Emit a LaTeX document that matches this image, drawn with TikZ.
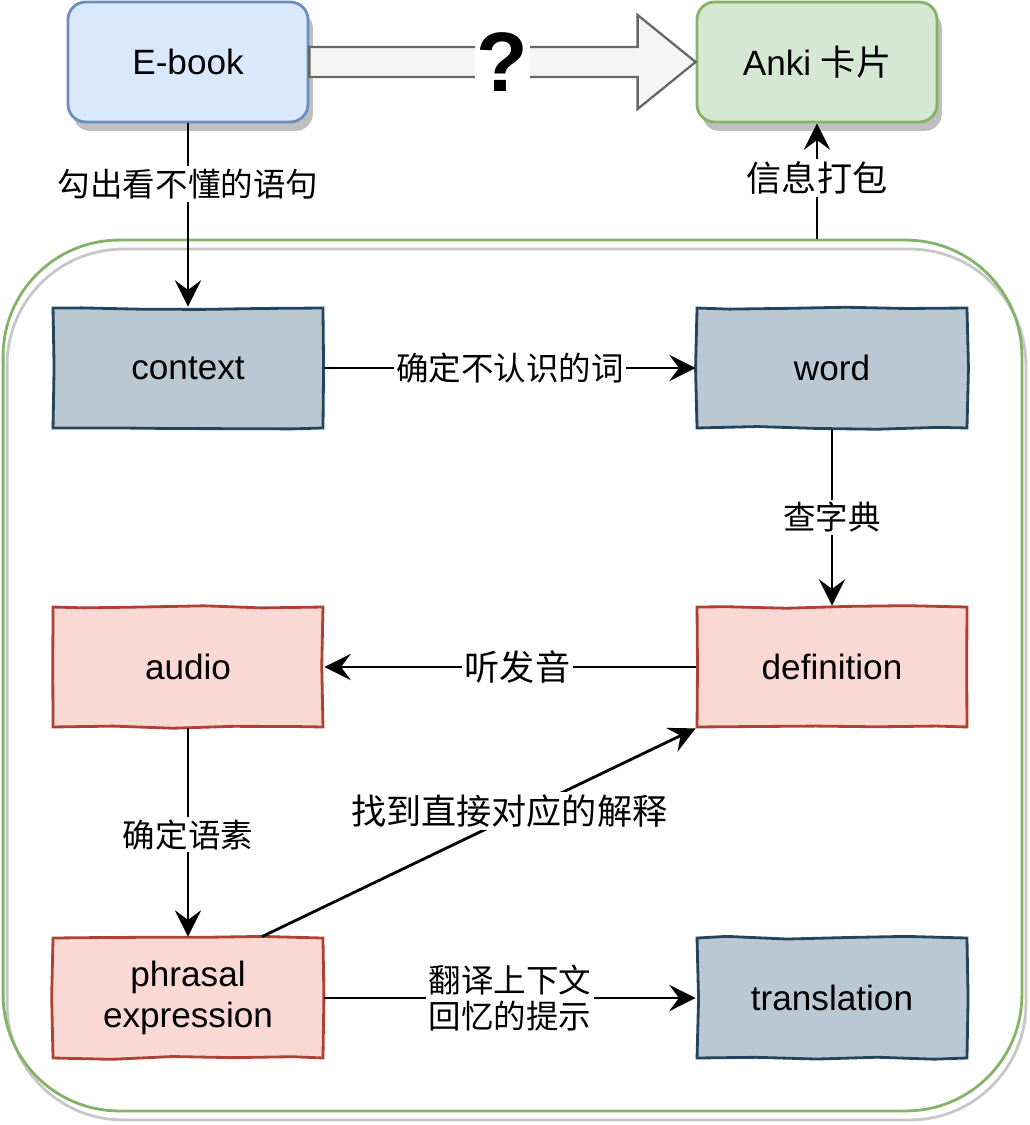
\documentclass[tikz,border=0pt]{standalone}
\usepackage{fontspec}
\setmainfont{Liberation Sans}
\newfontfamily\cjk{Noto Sans CJK SC}
\usetikzlibrary{
  arrows.meta,
  calc,
  decorations.pathmorphing,
  shadows
}
\definecolor{bookFill}{HTML}{DAE8FC}
\definecolor{bookLine}{HTML}{6C8EBF}
\definecolor{ankiFill}{HTML}{D5E8D4}
\definecolor{ankiLine}{HTML}{82B366}
\definecolor{slateFill}{HTML}{BAC8D3}
\definecolor{slateLine}{HTML}{23445D}
\definecolor{roseFill}{HTML}{FAD9D5}
\definecolor{roseLine}{HTML}{AE4132}
\definecolor{arrowFill}{HTML}{F5F5F5}
\definecolor{arrowLine}{HTML}{666666}
\tikzset{
  % For the two boxes outside the frame.
  rounded box/.style={
    draw,
    line width=1.6pt,
    rounded corners=10pt,
    minimum width=4.8cm,
    minimum height=2.4cm,
    font=\fontsize{20}{24}\selectfont,
    drop shadow={shadow xshift=0.1cm, shadow yshift=-0.18cm,
      fill=black!25, opacity=1}},
%
  % For the hand-drawn boxes inside the frame.
  sketch box/.style={
    draw,
    line width=1.6pt,
    minimum width=5.4cm,
    minimum height=2.4cm,
    align=center,
    font=\fontsize{20}{23}\selectfont,
    decorate,
    decoration={random steps, segment length=34pt, amplitude=1pt}},
  slate box/.style={
    sketch box,
    fill=slateFill,
    draw=slateLine},
  rose box/.style={
    sketch box,
    fill=roseFill,
    draw=roseLine},
%
  % For the big frame round the steps.
  frame/.style={
    draw=ankiLine,
    line width=1.6pt,
    minimum width=20.38cm,
    minimum height=17.42cm,
    rounded corners=66pt,
    drop shadow={shadow xshift=0.08cm, shadow yshift=-0.18cm,
      fill=none, draw=black!22, line width=1.6pt, opacity=1}},
%
  % For connectors.
  link/.style={
    line width=1.6pt,
    -{Stealth[length=15pt, width=15pt, inset=5.5pt]}},
%
  % For the wide arrow at the top.
  fat arrow/.style={
    draw=arrowLine,
    fill=arrowFill,
    line width=1.3pt,
    miter limit=10},
%
  % For labels on connectors.
  description/.style={
    fill=white,
    inner sep=1.5pt,
    align=center,
    font=\cjk\fontsize{18.5}{21}\selectfont},
  big description/.style={
    description,
    font=\cjk\fontsize{20}{23}\selectfont},
}

\begin{document}
\begin{tikzpicture}[x=0.02cm, y=-0.02cm]
  \useasboundingbox (0,0) rectangle (1029,1125);
  \pgfmathsetseed{11}

  \node[frame] (pane) at (512.5,675.5) {};

  \node[rounded box, fill=bookFill, draw=bookLine] (ebook) at (188,62) {E-book};
  \node[rounded box, fill=ankiFill, draw=ankiLine] (anki) at (817,62)
    {Anki {\cjk 卡片}};

  \node[slate box] (context) at (188,368) {context};
  \node[slate box] (word) at (832,368) {word};
  \node[rose box] (definition) at (832,667) {definition};
  \node[rose box] (audio) at (188,667) {audio};
  \node[rose box] (phrasal) at (188,998) {phrasal\\expression};
  \node[slate box] (translation) at (832,998) {translation};

  % The wide arrow is drawn after the boxes so that it covers the shadow.
  \draw[fat arrow] ($(ebook.east)+(0,-15)$) -- ($(anki.west)+(-58,-15)$)
    -- ($(anki.west)+(-58,-47)$) -- (anki.west) -- ($(anki.west)+(-58,47)$)
    -- ($(anki.west)+(-58,15)$) -- ($(ebook.east)+(0,15)$) -- cycle;
  \path (ebook.east) -- (anki.west)
    node[pos=0.5, fill=white, inner sep=1pt,
         font=\bfseries\fontsize{48}{52}\selectfont] (ask) {?};

  \draw[link] (ebook) -- (context)
    node[description, pos=0.33] {勾出看不懂的语句};
  \draw[link] (pane.north -| anki) -- (anki)
    node[big description, pos=0.53] {信息打包};
  \draw[link] (context) -- (word)
    node[description, pos=0.5] {确定不认识的词};
  \draw[link] (word) -- (definition)
    node[description, pos=0.5] {查字典};
  \draw[link] (definition) -- (audio)
    node[big description, pos=0.48] {听发音};
  \draw[link] (audio) -- (phrasal)
    node[description, pos=0.51] {确定语素};
  \draw[link] ($(phrasal.north)+(74,0)$) -- (definition.south west)
    node[big description, pos=0.57, yshift=4pt] {找到直接对应的解释};
  \draw[link] (phrasal) -- (translation)
    node[description, pos=0.5] {翻译上下文\\回忆的提示};
\end{tikzpicture}
\end{document}
